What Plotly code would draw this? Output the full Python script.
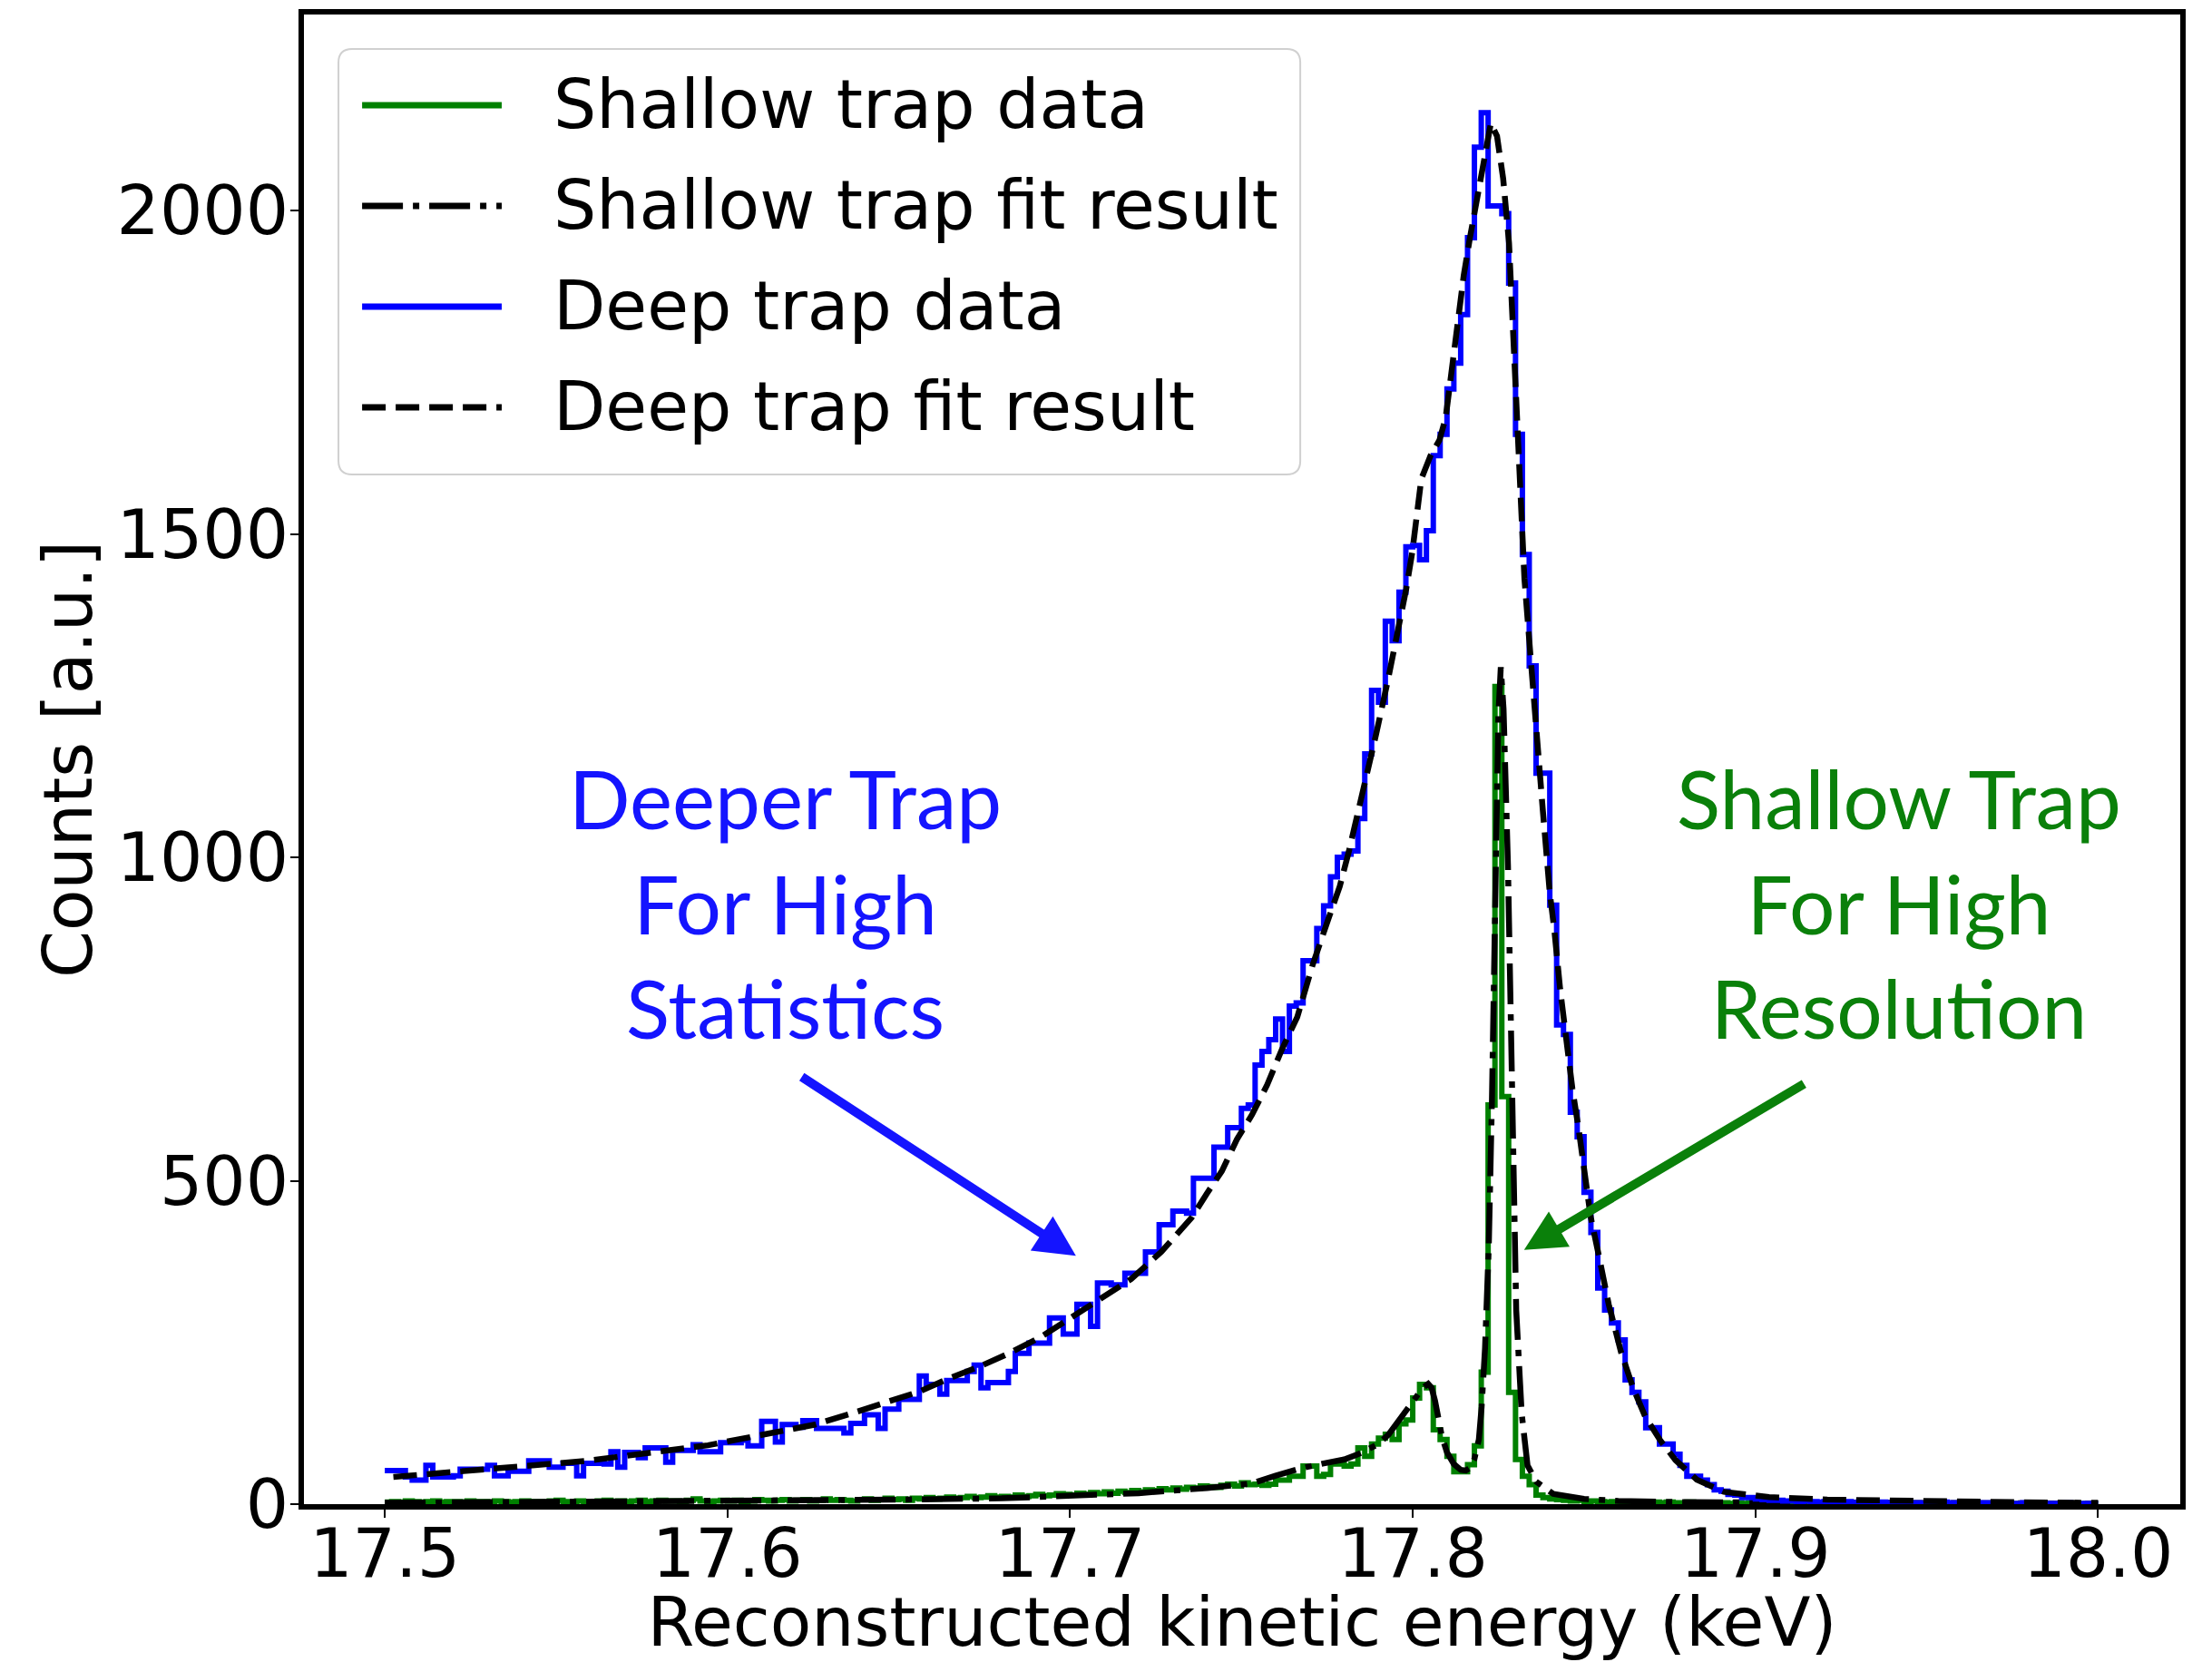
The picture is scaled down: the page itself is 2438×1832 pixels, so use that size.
import numpy as np
import plotly.graph_objects as go

# ---------------- data ----------------
bin_start = 17.5      # keV, left edge of first histogram bin
bin_width = 0.002     # keV

deep_counts = [
    52, 52, 52, 42, 37, 37, 60, 42, 42, 42,
    44, 54, 54, 54, 54, 60, 44, 44, 51, 51,
    51, 67, 67, 67, 57, 57, 63, 63, 44, 63,
    63, 63, 62, 81, 57, 80, 80, 72, 87, 87,
    87, 65, 83, 83, 83, 92, 81, 81, 81, 95,
    95, 95, 99, 90, 90, 128, 128, 96, 123, 123,
    119, 129, 129, 117, 117, 117, 117, 110, 125, 125,
    138, 138, 117, 147, 147, 162, 162, 162, 198, 185,
    185, 170, 191, 191, 191, 205, 215, 180, 188, 188,
    188, 205, 233, 233, 249, 249, 249, 288, 288, 263,
    263, 309, 309, 275, 342, 342, 339, 339, 357, 357,
    357, 390, 390, 432, 432, 453, 453, 450, 504, 504,
    504, 552, 552, 582, 582, 612, 617, 679, 700, 718,
    750, 700, 770, 775, 840, 840, 890, 925, 970, 1000,
    1005, 1010, 1060, 1160, 1258, 1240, 1365, 1335, 1410, 1480,
    1482, 1460, 1505, 1621, 1654, 1724, 1764, 1839, 1958, 2098,
    2151, 2007, 2007, 1995, 1888, 1654, 1468, 1296, 1130, 1130,
    926, 741, 726, 606, 568, 482, 420, 334, 300, 280,
    254, 192, 173, 158, 118, 118, 93, 93, 77, 60,
    43, 43, 37, 30, 22, 20, 15, 14, 10, 10,
    8, 7, 6, 6, 5, 5, 4, 5, 4, 3,
    4, 3, 3, 4, 2, 3, 3, 2, 3, 2,
    2, 3, 2, 2, 1, 2, 2, 3, 2, 1,
    2, 1, 2, 2, 1, 1, 2, 1, 1, 2,
    1, 1, 0, 1, 1, 2, 1, 0, 1, 1,
]

shallow_counts = [
    3, 4, 3, 5, 4, 3, 4, 5, 3, 4,
    4, 3, 5, 4, 4, 3, 5, 4, 3, 4,
    5, 4, 4, 3, 5, 6, 4, 4, 5, 4,
    4, 5, 6, 4, 5, 4, 5, 6, 4, 5,
    6, 5, 5, 4, 6, 8, 5, 4, 5, 6,
    5, 6, 4, 5, 7, 6, 5, 6, 7, 5,
    6, 7, 5, 6, 8, 6, 7, 6, 5, 7,
    8, 6, 7, 9, 7, 8, 6, 9, 8, 10,
    8, 9, 11, 9, 10, 12, 10, 11, 13, 11,
    12, 11, 14, 12, 13, 15, 13, 14, 16, 15,
    14, 17, 15, 18, 16, 19, 17, 20, 18, 21,
    19, 22, 21, 24, 22, 25, 23, 26, 25, 28,
    27, 26, 29, 31, 28, 33, 30, 31, 29, 31,
    37, 37, 43, 43, 59, 59, 43, 46, 62, 62,
    59, 62, 87, 74, 93, 102, 108, 100, 124, 130,
    164, 185, 180, 115, 100, 74, 50, 50, 61, 90,
    204, 617, 1264, 630, 173, 69, 43, 30, 14, 10,
    8, 7, 6, 5, 6, 4, 5, 4, 3, 4,
    3, 4, 3, 3, 2, 3, 2, 3, 2, 2,
    3, 2, 2, 1, 2, 2, 1, 2, 1, 2,
    1, 2, 1, 1, 2, 1, 1, 0, 1, 1,
    1, 1, 2, 1, 0, 1, 1, 1, 0, 1,
    1, 0, 1, 1, 1, 0, 1, 1, 0, 1,
    0, 1, 1, 0, 1, 1, 0, 1, 0, 1,
    1, 0, 1, 0, 1, 0, 1, 1, 0, 1,
]

deep_fit_energy = [
    17.5025, 17.5236, 17.5413, 17.5590, 17.5766, 17.5943, 17.6119, 17.6256,
    17.6384, 17.6472, 17.6560, 17.6649, 17.6737, 17.6825, 17.6913, 17.7002,
    17.7090, 17.7178, 17.7266, 17.7355, 17.7399, 17.7443, 17.7487, 17.7531,
    17.7575, 17.7619, 17.7663, 17.7708, 17.7752, 17.7787, 17.7814, 17.7858,
    17.7893, 17.7928, 17.7955, 17.7981, 17.7999, 17.8012, 17.8025, 17.8052,
    17.8078, 17.8096, 17.8114, 17.8131, 17.8149, 17.8167, 17.8193, 17.8211,
    17.8228, 17.8246, 17.8264, 17.8281, 17.8290, 17.8299, 17.8308, 17.8317,
    17.8326, 17.8343, 17.8361, 17.8379, 17.8400, 17.8413, 17.8430, 17.8448,
    17.8466, 17.8484, 17.8501, 17.8519, 17.8546, 17.8572, 17.8608, 17.8643,
    17.8678, 17.8722, 17.8767, 17.8829, 17.8908, 17.9040, 17.9210, 17.9500,
    17.9750, 18.0000,
]
deep_fit_counts = [
    42, 51, 58, 67, 79, 91, 109, 123,
    144, 158, 174, 195, 213, 234, 258, 288,
    318, 348, 390, 443, 480, 515, 564, 602,
    648, 704, 753, 834, 902, 955, 1010, 1105,
    1190, 1275, 1341, 1415, 1473, 1530, 1585, 1621,
    1645, 1679, 1752, 1835, 1900, 1958, 2032, 2090,
    2135, 2115, 2049, 1950, 1843, 1719, 1621, 1530,
    1431, 1316, 1184, 1077, 945, 889, 797, 717,
    642, 581, 506, 445, 377, 309, 235, 180,
    136, 99, 68, 38, 19, 11, 7, 4,
    3, 2,
]

shallow_fit_energy = [
    17.500, 17.550, 17.600, 17.650, 17.680, 17.700, 17.720, 17.740,
    17.753, 17.760, 17.767, 17.774, 17.780, 17.784, 17.787, 17.790,
    17.793, 17.796, 17.799, 17.801, 17.803, 17.8045, 17.8055, 17.8065,
    17.8075, 17.8085, 17.810, 17.812, 17.814, 17.8155, 17.8167, 17.818,
    17.8193, 17.8201, 17.8211, 17.8222, 17.8231, 17.8241, 17.8250, 17.8257,
    17.8265, 17.8278, 17.8291, 17.8302, 17.8318, 17.8335, 17.836, 17.841,
    17.850, 17.860, 17.880, 17.920, 18.000,
]
shallow_fit_counts = [
    2, 3, 4, 7, 9, 12, 17, 25,
    32, 44, 55, 63, 69, 77, 84, 93,
    108, 130, 152, 167, 180, 186, 180, 160,
    130, 105, 80, 62, 53, 52, 56, 70,
    100, 150, 241, 400, 620, 986, 1220, 1294,
    1230, 986, 610, 300, 140, 60, 35, 16,
    8, 5, 3, 2, 1,
]

x_ticks = [17.5, 17.6, 17.7, 17.8, 17.9, 18.0]
y_ticks = [0, 500, 1000, 1500, 2000]
x_range = [17.4764, 18.024]
y_range = [0, 2303]

legend_labels = ["Shallow trap data", "Shallow trap fit result",
                 "Deep trap data", "Deep trap fit result"]
legend_colors = ["#008000", "#000000", "#0000FF", "#000000"]
legend_dashes = ["solid", "45px,11px,7px,11px", "solid", "26px,11px"]

note_deep_lines = ["Deeper Trap", "For High", "Statistics"]
note_shallow_lines = ["Shallow Trap", "For High", "Resolution"]
note_center_count = 930
note_deep_energy = 17.6168
note_shallow_energy = 17.9419
arrow_deep = dict(tip=(17.7017, 384), tail=(17.6213, 662))
arrow_shallow = dict(tip=(17.8325, 393), tail=(17.9146, 651))

assert len(deep_counts) == 250 and len(shallow_counts) == 250
assert len(deep_fit_energy) == len(deep_fit_counts)
assert len(shallow_fit_energy) == len(shallow_fit_counts)

# ---------------- figure ----------------
edges = bin_start + bin_width * np.arange(len(deep_counts) + 1)
tick_font = dict(family="DejaVu Sans", size=74.5, color="black")

fig = go.Figure()
fig.add_trace(go.Scatter(x=edges, y=shallow_counts + shallow_counts[-1:], mode="lines",
                         name=legend_labels[0], line=dict(shape="hv", color=legend_colors[0], width=6)))
fig.add_trace(go.Scatter(x=shallow_fit_energy, y=shallow_fit_counts, mode="lines",
                         name=legend_labels[1], line=dict(color=legend_colors[1], width=6.5, dash=legend_dashes[1])))
fig.add_trace(go.Scatter(x=edges, y=deep_counts + deep_counts[-1:], mode="lines",
                         name=legend_labels[2], line=dict(shape="hv", color=legend_colors[2], width=6)))
fig.add_trace(go.Scatter(x=deep_fit_energy, y=deep_fit_counts, mode="lines",
                         name=legend_labels[3], line=dict(color=legend_colors[3], width=6.5, dash=legend_dashes[3])))

W, H = 2438, 1832
margin = dict(l=335, r=35, t=16, b=174)
fig.update_layout(
    width=W, height=H, margin=margin, showlegend=False,
    paper_bgcolor="white", plot_bgcolor="white",
    font=tick_font,
    xaxis=dict(range=x_range, tickvals=x_ticks, tickformat=".1f", ticks="outside", ticklen=9,
               tickwidth=2, tickcolor="black", showline=True, mirror=True, linewidth=6,
               linecolor="black", showgrid=False, zeroline=False, tickfont=tick_font,
               automargin=False, ticklabelstandoff=-24,
               title=dict(text="Reconstructed kinetic energy (keV)", font=tick_font, standoff=16)),
    yaxis=dict(range=y_range, tickvals=y_ticks, ticks="outside", ticklen=9,
               tickwidth=2, tickcolor="black", showline=True, mirror=True, linewidth=6,
               linecolor="black", showgrid=False, zeroline=False, tickfont=tick_font,
               automargin=False, ticklabelstandoff=-13,
               title=dict(text="Counts [a.u.]", font=tick_font, standoff=4)),
)

# ---- legend drawn as a matplotlib-style box ----
pw = W - margin["l"] - margin["r"]
ph = H - margin["t"] - margin["b"]
box = dict(x0=0.0184, x1=0.531, y0=0.6912, y1=0.9769)
rx, ry = 15 / pw, 15 / ph
path = (f"M{box['x0']+rx},{box['y0']} L{box['x1']-rx},{box['y0']} "
        f"Q{box['x1']},{box['y0']} {box['x1']},{box['y0']+ry} L{box['x1']},{box['y1']-ry} "
        f"Q{box['x1']},{box['y1']} {box['x1']-rx},{box['y1']} L{box['x0']+rx},{box['y1']} "
        f"Q{box['x0']},{box['y1']} {box['x0']},{box['y1']-ry} L{box['x0']},{box['y0']+ry} "
        f"Q{box['x0']},{box['y0']} {box['x0']+rx},{box['y0']} Z")
fig.add_shape(type="path", path=path, xref="paper", yref="paper",
              fillcolor="rgba(255,255,255,0.8)", line=dict(color="#d0d0d0", width=2), layer="above")
row_top, row_step = 0.9391, 0.0676
sample_x0, sample_x1, text_x = 0.0310, 0.1054, 0.132
for k, (lab, col, dsh) in enumerate(zip(legend_labels, legend_colors, legend_dashes)):
    yy = row_top - k * row_step
    fig.add_shape(type="line", xref="paper", yref="paper", x0=sample_x0, x1=sample_x1, y0=yy, y1=yy,
                  line=dict(color=col, width=7, dash=dsh), layer="above")
    fig.add_annotation(x=text_x, y=yy, xref="paper", yref="paper", text=lab, showarrow=False,
                       xanchor="left", yanchor="middle", font=tick_font)

# ---- text notes and arrows ----
note_font_b = dict(family="Lato", size=89, color="#1414FF")
note_font_g = dict(family="Lato", size=89, color="#0A800A")
fig.add_annotation(x=note_deep_energy, y=note_center_count, text="<br>".join(note_deep_lines),
                   showarrow=False, xanchor="center", yanchor="middle", align="center", font=note_font_b)
fig.add_annotation(x=note_shallow_energy, y=note_center_count, text="<br>".join(note_shallow_lines),
                   showarrow=False, xanchor="center", yanchor="middle", align="center", font=note_font_g)
for arr, col in [(arrow_deep, "#1414FF"), (arrow_shallow, "#0A800A")]:
    fig.add_annotation(x=arr["tip"][0], y=arr["tip"][1], ax=arr["tail"][0], ay=arr["tail"][1],
                       xref="x", yref="y", axref="x", ayref="y", text="", showarrow=True,
                       arrowhead=2, arrowsize=0.9, arrowwidth=10, arrowcolor=col)

fig.write_html("out.html")
